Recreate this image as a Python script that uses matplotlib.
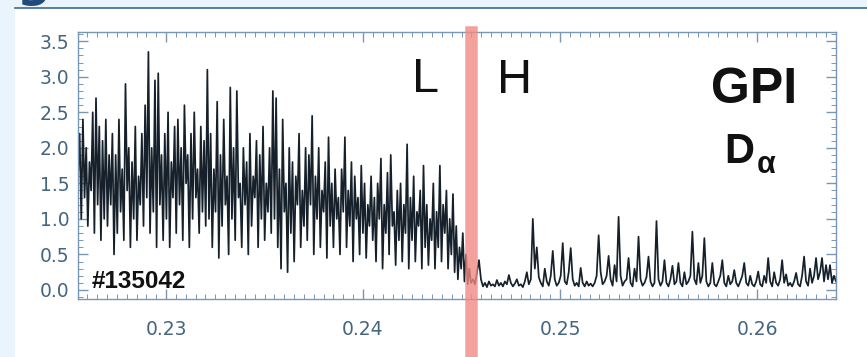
import numpy as np
import matplotlib
matplotlib.use('Agg')
import matplotlib.pyplot as plt
from matplotlib.patches import Rectangle
from matplotlib.lines import Line2D
from matplotlib.ticker import MultipleLocator, FormatStrFormatter

# time window and L-H transition (s)
t_start = 0.22553
t_lh = 0.24548
t_end = 0.26401

# D-alpha signal in L-mode (a.u.)
l_mode = [
    1.6, 2.2, 1.0, 2.4, 1.3, 2.0, 0.9, 1.8, 1.4, 2.5, 0.8, 2.7, 1.2, 2.3, 0.7, 2.1, 1.0, 2.4, 0.9, 1.9,
    1.2, 2.2, 0.5, 1.9, 0.8, 2.4, 1.1, 1.7, 0.7, 2.9, 1.4, 2.0, 0.6, 1.8, 1.0, 2.3, 0.7, 1.6, 1.2, 2.2,
    0.9, 2.6, 1.3, 3.35, 0.8, 2.0, 1.1, 2.95, 0.6, 3.05, 1.2, 1.9, 0.7, 2.2, 1.0, 2.5, 0.6, 1.8, 1.3, 2.3,
    0.8, 2.4, 1.2, 2.0, 0.7, 2.6, 1.5, 1.9, 0.6, 2.2, 1.0, 2.5, 1.3, 1.7, 0.8, 2.3, 1.1, 2.1, 0.9, 3.1,
    1.0, 2.2, 0.6, 1.7, 1.1, 2.65, 0.45, 1.9, 0.9, 2.4, 1.2, 1.6, 0.5, 2.85, 1.0, 2.0, 0.7, 2.8, 1.3, 1.5,
    0.6, 2.0, 1.2, 1.8, 0.5, 2.2, 0.9, 1.6, 1.3, 2.1, 0.6, 1.9, 1.0, 2.3, 0.7, 1.5, 1.1, 2.0, 0.8, 2.8,
    1.0, 2.7, 0.6, 1.7, 0.3, 2.4, 1.1, 1.5, 0.25, 2.0, 0.8, 1.8, 0.4, 1.6, 1.2, 2.2, 0.6, 1.4, 0.9, 2.0,
    0.7, 1.9, 1.2, 2.45, 0.5, 1.6, 1.0, 2.0, 0.6, 1.4, 1.1, 1.8, 0.45, 2.15, 0.9, 1.5, 0.6, 1.7, 1.0, 1.3,
    0.5, 1.7, 1.1, 2.15, 0.6, 1.4, 0.9, 1.8, 0.4, 1.6, 1.0, 1.3, 0.5, 1.75, 0.8, 1.5, 0.45, 1.2, 0.9, 1.6,
    0.7, 1.3, 0.4, 1.5, 1.0, 1.85, 0.3, 1.2, 0.8, 1.65, 0.5, 1.9, 0.9, 1.1, 0.35, 1.4, 0.7, 1.5, 0.4, 1.2,
    0.8, 2.05, 0.3, 1.3, 0.7, 1.6, 0.4, 1.1, 0.9, 1.4, 0.3, 1.75, 0.6, 1.2, 0.35, 1.0, 0.7, 1.5, 0.3, 1.1,
    0.6, 1.75, 0.4, 1.2, 0.8, 1.4, 0.3, 1.0, 0.5, 1.35, 0.25, 0.9, 0.15, 0.6, 0.3, 0.8, 0.12, 0.5, 0.08, 0.3,
]

# D-alpha signal in H-mode (ELMs on a low baseline)
h_mode = [
    0.10, 0.15, 0.08, 0.25, 0.42, 0.15, 0.05, 0.10, 0.04, 0.12, 0.06, 0.08, 0.05, 0.14, 0.06, 0.10,
    0.05, 0.12, 0.08, 0.21, 0.10, 0.05, 0.09, 0.15, 0.06, 0.08, 0.04, 0.12, 0.25, 0.08, 0.15, 1.00,
    0.30, 0.60, 0.18, 0.10, 0.05, 0.30, 0.12, 0.06, 0.20, 0.55, 0.15, 0.06, 0.10, 0.20, 0.66, 0.12,
    0.08, 0.25, 0.59, 0.15, 0.06, 0.10, 0.05, 0.31, 0.10, 0.05, 0.12, 0.06, 0.09, 0.05, 0.10, 0.20,
    0.77, 0.25, 0.08, 0.12, 0.20, 0.48, 0.15, 0.06, 0.35, 0.12, 1.03, 0.20, 0.06, 0.12, 0.15, 0.45,
    0.10, 0.05, 0.30, 0.12, 0.75, 0.15, 0.06, 0.10, 0.18, 0.47, 0.12, 0.05, 0.10, 0.97, 0.15, 0.06,
    0.12, 0.42, 0.10, 0.05, 0.15, 0.34, 0.08, 0.12, 0.38, 0.10, 0.05, 0.25, 0.08, 0.12, 0.20, 0.82,
    0.15, 0.08, 0.38, 0.10, 0.20, 0.73, 0.12, 0.05, 0.10, 0.38, 0.08, 0.05, 0.12, 0.20, 0.42, 0.10,
    0.05, 0.20, 0.08, 0.12, 0.28, 0.10, 0.05, 0.12, 0.20, 0.38, 0.10, 0.06, 0.20, 0.08, 0.05, 0.12,
    0.26, 0.08, 0.05, 0.20, 0.10, 0.45, 0.12, 0.05, 0.25, 0.10, 0.06, 0.15, 0.42, 0.10, 0.22, 0.06,
    0.10, 0.05, 0.12, 0.24, 0.08, 0.05, 0.20, 0.47, 0.12, 0.06, 0.30, 0.10, 0.20, 0.45, 0.15, 0.25,
    0.45, 0.12, 0.35, 0.15, 0.35, 0.10, 0.20, 0.12,
]

shot = '#135042'
yticks = [0.0, 0.5, 1.0, 1.5, 2.0, 2.5, 3.0, 3.5]
xticks = [0.23, 0.24, 0.25, 0.26]

# sample clock
t_l = np.linspace(t_start, t_lh, len(l_mode), endpoint=False)
t_h = np.linspace(t_lh, t_end, len(h_mode))
t = np.concatenate([t_l, t_h])
sig = np.concatenate([l_mode, h_mode])

W, H = 867, 357
fig = plt.figure(figsize=(W / 100, H / 100), dpi=100, facecolor='#eaf4fc')

# slide-like frame: white panel, dark rule, cut-off letter at the top
fig.text(17 / W, 1 - 6 / H, 'g', fontsize=34, fontweight='bold', color='#1f4a7a',
         family='DejaVu Sans', ha='left', va='bottom', zorder=0)
fig.patches.append(Rectangle((15 / W, 0), 1 - 15 / W, 1 - 8 / H, transform=fig.transFigure,
                             facecolor='white', edgecolor='none', zorder=1))
fig.lines.append(Line2D([15 / W, 1], [1 - 7.5 / H, 1 - 7.5 / H], transform=fig.transFigure,
                        color='#3b6894', lw=1.2, zorder=2))

ax = fig.add_axes([78 / W, 1 - 299 / H, (836 - 78) / W, (299 - 32) / H])
ax.set_zorder(3)
ax.plot(t, sig, color='#15202b', lw=1.25)
ax.axvline(t_lh, ymin=-0.22, ymax=1, color='#f08a84', alpha=0.8, lw=9, clip_on=False, zorder=5)

ax.set_xlim(t_start, t_end)
ax.set_ylim(-0.127, 3.63)
ax.set_xticks(xticks)
ax.set_yticks(yticks)
ax.xaxis.set_major_formatter(FormatStrFormatter('%.2f'))
ax.yaxis.set_major_formatter(FormatStrFormatter('%.1f'))
ax.xaxis.set_minor_locator(MultipleLocator(0.0005))
ax.yaxis.set_minor_locator(MultipleLocator(0.1))

frame_c = '#7897b5'
for s in ax.spines.values():
    s.set_color(frame_c)
    s.set_linewidth(1.0)
ax.tick_params(which='both', direction='in', top=True, right=True, color=frame_c,
               labelcolor='#46657f', labelsize=13.5)
ax.tick_params(which='major', length=7, width=1)
ax.tick_params(which='minor', length=3.5, width=0.7)
ax.tick_params(axis='x', pad=15)
ax.tick_params(axis='y', pad=6)

fig.text(412 / W, 1 - 92 / H, 'L', fontsize=35, family='Liberation Sans', color='#111111',
         ha='left', va='baseline', zorder=6)
fig.text(497 / W, 1 - 93 / H, 'H', fontsize=35, family='Liberation Sans', color='#111111',
         ha='left', va='baseline', zorder=6)
fig.text(711 / W, 1 - 103 / H, 'GPI', fontsize=36, family='Liberation Sans', fontweight='bold',
         color='#111111', ha='left', va='baseline', zorder=6)
fig.text(724 / W, 1 - 163 / H, 'D', fontsize=30, family='Liberation Sans', fontweight='bold',
         color='#111111', ha='left', va='baseline', zorder=6)
fig.text(757 / W, 1 - 173 / H, 'α', fontsize=22, family='Liberation Sans', fontweight='bold',
         color='#111111', ha='left', va='baseline', zorder=6)
fig.text(92 / W, 1 - 288 / H, shot, fontsize=17.5, family='Liberation Sans', fontweight='bold',
         color='#111111', ha='left', va='baseline', zorder=6)

fig.savefig('out.png', dpi=100, facecolor=fig.get_facecolor())
